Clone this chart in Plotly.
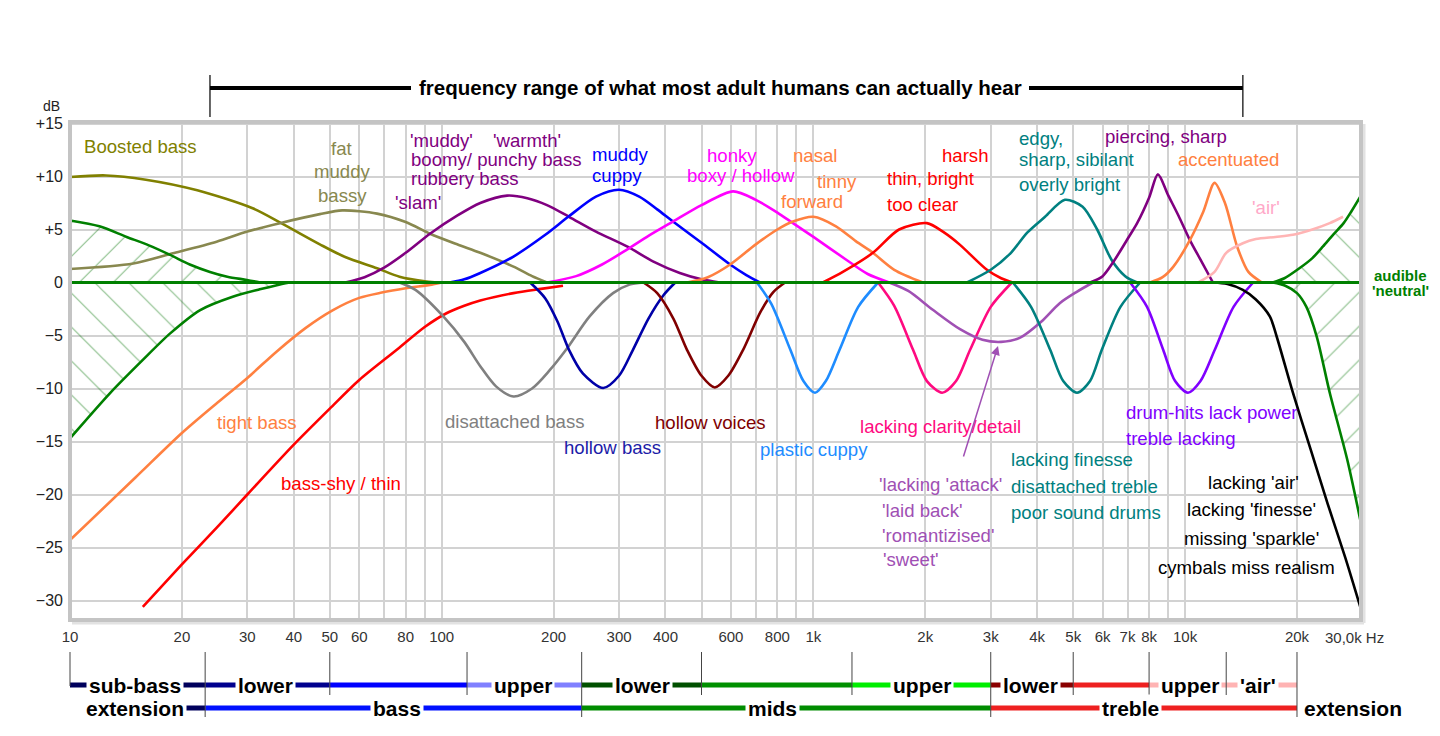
import math
import plotly.graph_objects as go

# ------------------------------------------------------------------ data
# (frequency in Hz, level in dB)
boosted_f = [10, 12.5, 16, 22, 31, 37, 47, 55, 67, 77, 91, 98]
boosted_db = [9.95, 10.1, 9.7, 8.7, 7.0, 5.6, 3.6, 2.4, 1.35, 0.55, 0.1, 0.0]

fat_f = [10, 14.8, 18.9, 24.8, 30, 36.7, 47, 54, 67, 80, 93, 110, 127, 156, 175, 192]
fat_db = [1.27, 1.8, 2.75, 3.85, 4.8, 5.6, 6.45, 6.8, 6.5, 5.7, 4.6, 3.6, 2.8, 1.5, 0.6, 0.0]

slam_f = [55, 62, 70, 80, 93, 110, 127, 150, 170, 192, 220, 260, 315, 370, 437, 500, 560]
slam_db = [0, 0.5, 1.4, 2.8, 4.6, 6.3, 7.5, 8.2, 7.95, 7.3, 6.2, 4.8, 3.4, 2.0, 0.9, 0.3, 0]

cuppy_f = [105, 115, 127, 156, 190, 219, 260, 300, 340, 380, 419, 500, 597, 660, 718]
cuppy_db = [0, 0.3, 0.9, 2.45, 4.5, 6.2, 8.1, 8.75, 8.1, 6.9, 5.75, 3.75, 1.7, 0.7, 0]

honky_f = [192, 230, 270, 315, 360, 419, 500, 608, 700, 800, 881, 1000, 1231, 1400, 1600]
honky_db = [0, 0.6, 1.7, 3.1, 4.4, 5.75, 7.3, 8.6, 7.8, 6.6, 5.6, 4.3, 2.1, 0.8, 0]

nasal_f = [457, 520, 597, 700, 800, 881, 1000, 1150, 1300, 1446, 1650, 1970]
nasal_db = [0, 0.5, 1.7, 3.6, 5.0, 5.75, 6.2, 5.3, 3.9, 2.8, 1.2, 0]

harsh_f = [1060, 1200, 1446, 1700, 2020, 2250, 2480, 2930, 3200, 3440]
harsh_db = [0, 1.0, 2.8, 5.0, 5.6, 4.7, 3.55, 1.2, 0.4, 0]

edgy_f = [2590, 3000, 3400, 3760, 4200, 4750, 5300, 5800, 6350, 6900, 7430]
edgy_db = [0, 1.2, 2.8, 4.7, 6.2, 7.8, 7.15, 5.0, 2.1, 0.6, 0]

pierce_f = [5550, 6000, 6400, 7000, 7430, 8000, 8450, 9000, 9600, 10300, 11000, 11880]
pierce_db = [0, 0.6, 1.9, 4.1, 5.6, 8.0, 10.2, 8.25, 6.3, 4.0, 2.15, 0]

accent_f = [8050, 8700, 9300, 10300, 11200, 12000, 12800, 13800, 14800, 16100]
accent_db = [0, 0.5, 1.5, 4.0, 6.7, 9.4, 7.5, 3.4, 1.0, 0]

air_f = [10840, 12000, 12900, 14300, 15500, 17500, 19500, 22000, 24500, 26600]
air_db = [0, 1.0, 2.8, 3.7, 4.1, 4.3, 4.5, 5.0, 5.6, 6.2]

lackair_f = [11900, 13000, 14300, 15500, 16900, 17600, 19500, 21700, 24200, 27000, 29600]
lackair_db = [0, -0.15, -0.7, -1.6, -3.2, -5.0, -10.4, -15.6, -20.9, -26.0, -30.6]

tight_f = [10, 15, 20, 25, 30, 36, 43, 51, 60, 69, 80, 94, 100]
tight_db = [-24.3, -18.4, -14.2, -11.3, -9.0, -6.5, -4.3, -2.6, -1.45, -0.95, -0.55, -0.2, 0]

shy_f = [15.7, 20, 25, 30, 40, 50, 60, 76, 90, 103, 115, 127, 156, 185, 212]
shy_db = [-30.6, -26.6, -23.0, -20.0, -15.3, -11.9, -9.2, -6.3, -4.2, -2.9, -2.2, -1.7, -1.0, -0.6, -0.3]

disatt_f = [77, 85, 101, 115, 127, 140, 156, 175, 195, 216, 250, 289, 320, 349]
disatt_db = [0, -0.7, -3.2, -5.6, -7.9, -9.8, -10.75, -10.0, -8.3, -6.35, -3.2, -1.0, -0.2, 0]

hbass_f = [173, 190, 205, 220, 240, 272, 300, 327, 360, 395, 425]
hbass_db = [0, -1.5, -3.7, -6.35, -8.6, -9.95, -8.8, -6.35, -3.4, -1.2, 0]

hvoice_f = [349, 380, 420, 457, 500, 543, 590, 647, 720, 780, 839]
hvoice_db = [0, -1.0, -3.4, -6.35, -8.8, -9.9, -8.8, -6.35, -2.8, -0.9, 0]

plastic_f = [705, 770, 867, 940, 1010, 1080, 1176, 1320, 1493]
plastic_db = [0, -2.0, -6.35, -9.3, -10.4, -9.3, -6.35, -2.3, 0]

clarity_f = [1493, 1650, 1854, 2020, 2220, 2420, 2640, 3000, 3420]
clarity_db = [0, -2.2, -6.35, -9.3, -10.4, -9.3, -6.35, -2.3, 0]

attack_f = [1600, 1800, 2100, 2480, 2850, 3200, 3600, 4100, 4600, 5100, 5650]
attack_db = [0, -0.8, -2.6, -4.4, -5.4, -5.6, -5.2, -3.7, -1.95, -0.9, 0]

finesse_f = [3440, 3850, 4335, 4700, 5120, 5550, 5970, 6700, 7570]
finesse_db = [0, -2.3, -6.35, -9.3, -10.4, -9.3, -6.35, -2.3, 0]

drum_f = [7115, 7900, 8730, 9400, 10180, 11000, 12020, 13500, 15240]
drum_db = [0, -2.3, -6.35, -9.3, -10.4, -9.3, -6.35, -2.3, 0]

# audible limits (green)
low_up_f = [10, 12, 14.2, 16.3, 18.6, 21, 23.8, 26.5, 29.9, 32.5]
low_up_db = [5.85, 5.3, 4.3, 3.5, 2.6, 1.7, 1.0, 0.55, 0.24, 0]
low_dn_f = [10, 12.8, 15.7, 18.6, 22.4, 27.4, 32.4, 36, 39]
low_dn_db = [-14.7, -10.45, -7.3, -4.8, -2.6, -1.34, -0.64, -0.25, 0]
high_up_f = [17200, 18500, 20300, 22000, 23500, 25000, 26700, 28000, 29600]
high_up_db = [0, 0.4, 1.34, 2.3, 3.4, 4.5, 5.6, 6.7, 8.1]
high_dn_f = [17200, 18600, 20000, 21200, 22600, 24500, 27300, 29600]
high_dn_db = [0, -0.3, -1.0, -2.3, -5.1, -10.4, -16.7, -22.4]
neutral_f = [10, 29700]
neutral_db = [0, 0]

# axis ticks
grid_hz = [m * d for d in (10, 100, 1000) for m in range(1, 10)] + [10000, 20000]
tick_text = {10: "10", 20: "20", 30: "30", 40: "40", 50: "50", 60: "60", 80: "80",
             100: "100", 200: "200", 300: "300", 400: "400", 600: "600", 800: "800",
             1000: "1k", 2000: "2k", 3000: "3k", 4000: "4k", 5000: "5k", 6000: "6k",
             7000: "7k", 8000: "8k", 10000: "10k", 20000: "20k"}
db_ticks = [-30, -25, -20, -15, -10, -5, 0, 5, 10, 15]
db_text = ["\u221230", "\u221225", "\u221220", "\u221215", "\u221210", "\u22125", "0", "+5", "+10", "+15"]

# frequency bands under the axis
band_edges_hz = [10, 23.1, 50, 117, 238, 500, 1270, 3000, 5000, 8000, 12900, 20000]
band_long_edges_hz = [23.1, 238, 3000, 20000]
row1_colors = ["#00005c", "#00008e", "#0000ff", "#8080ff", "#005000", "#009000",
               "#00ee00", "#8a0000", "#ee2020", "#ffb3b3", "#ffb3b3"]
row1_labels = ["sub-bass", "lower", "upper", "lower", "upper", "lower", "upper", "'air'"]
row1_label_hz = [15.0, 33.6, 165, 347, 1955, 3828, 10280, 15700]
row2_edges_hz = [19.5, 23.1, 238, 3000, 20000]
row2_colors = ["#00005c", "#0010ff", "#008c00", "#ee2020"]
row2_labels = ["extension", "bass", "mids", "treble"]
row2_label_hz = [15.0, 75.8, 778, 7110]
audible_range_hz = [23.8, 14300]

# ------------------------------------------------------------------ geometry
W, H = 1440, 736
PL, PR, PT, PB = 70, 1361, 122, 620
DEC = 371.7          # px per decade
DBPX = 10.6          # px per dB
Y0PX = 282.5         # px of 0 dB


def hz2px(f):
    return PL + (math.log10(f) - 1) * DEC


def fx(xpx):
    return xpx / W


def fy(ypx):
    return 1 - ypx / H


xr = [1, 1 + (PR - PL) / DEC]
yr = [(Y0PX - PB) / DBPX, (Y0PX - PT) / DBPX]

ARIAL = "Liberation Sans, Arial"
GREEN = "#008000"
LABEL_SIZE = 18.6

fig = go.Figure()


def hatch(fs, dbs, close_f, shape):
    fig.add_trace(go.Scatter(
        x=fs + [close_f], y=dbs + [0], mode="lines", line=dict(width=0),
        fill="toself", fillcolor="rgba(0,0,0,0)",
        fillpattern=dict(shape=shape, size=24, solidity=0.05, fgcolor="#1a801a",
                         bgcolor="rgba(0,0,0,0)"),
        hoverinfo="skip", showlegend=False))


hatch(low_up_f, low_up_db, low_up_f[0], "/")
hatch(low_dn_f, low_dn_db, low_dn_f[0], "\\")
hatch(high_up_f, high_up_db, high_up_f[-1], "\\")
hatch(high_dn_f, high_dn_db, high_dn_f[-1], "/")

curves = [
    (boosted_f, boosted_db, "#808000"),
    (fat_f, fat_db, "#88884f"),
    (slam_f, slam_db, "#800080"),
    (cuppy_f, cuppy_db, "#0000ff"),
    (honky_f, honky_db, "#ff00ff"),
    (nasal_f, nasal_db, "#ff8040"),
    (harsh_f, harsh_db, "#ff0000"),
    (edgy_f, edgy_db, "#008080"),
    (pierce_f, pierce_db, "#800080"),
    (accent_f, accent_db, "#ff8040"),
    (air_f, air_db, "#ffb4b4"),
    (tight_f, tight_db, "#ff8040"),
    (shy_f, shy_db, "#ff0000"),
    (disatt_f, disatt_db, "#808080"),
    (hbass_f, hbass_db, "#0000a8"),
    (hvoice_f, hvoice_db, "#800000"),
    (plastic_f, plastic_db, "#1e8cff"),
    (clarity_f, clarity_db, "#ff0a80"),
    (attack_f, attack_db, "#a050b4"),
    (finesse_f, finesse_db, "#008080"),
    (drum_f, drum_db, "#8000ff"),
    (lackair_f, lackair_db, "#000000"),
    (low_up_f, low_up_db, GREEN),
    (low_dn_f, low_dn_db, GREEN),
    (high_up_f, high_up_db, GREEN),
    (high_dn_f, high_dn_db, GREEN),
]
for fs, dbs, col in curves:
    fig.add_trace(go.Scatter(x=fs, y=dbs, mode="lines",
                             line=dict(color=col, width=2.6, shape="spline", smoothing=0.8),
                             hoverinfo="skip", showlegend=False))
fig.add_trace(go.Scatter(x=neutral_f, y=neutral_db, mode="lines",
                         line=dict(color=GREEN, width=3.2), hoverinfo="skip", showlegend=False))

# ------------------------------------------------------------------ axes
fig.update_layout(
    width=W, height=H, margin=dict(l=0, r=0, t=0, b=0, autoexpand=False),
    paper_bgcolor="white", plot_bgcolor="white", showlegend=False,
    xaxis=dict(type="log", range=xr, domain=[fx(PL), fx(PR)], automargin=False,
               tickvals=grid_hz, ticktext=[tick_text.get(v, "") for v in grid_hz],
               showgrid=True, gridcolor="#d2d2d2", gridwidth=1.5, zeroline=False,
               showline=False, ticks="", ticklabelstandoff=6,
               tickfont=dict(family=ARIAL, size=15, color="#333333"), fixedrange=True),
    yaxis=dict(range=yr, domain=[fy(PB), fy(PT)], automargin=False,
               tickvals=db_ticks, ticktext=db_text,
               showgrid=True, gridcolor="#d2d2d2", gridwidth=1.5, zeroline=False,
               showline=False, ticks="", ticklabelstandoff=6,
               tickfont=dict(family=ARIAL, size=16, color="#222222"), fixedrange=True),
)

shapes = []
# plot frame (with a faint shadow at bottom/right)
shapes.append(dict(type="line", xref="paper", yref="paper", x0=fx(PL + 2), x1=fx(PR + 3),
                   y0=fy(PB + 3), y1=fy(PB + 3), line=dict(color="#e2e2e2", width=3)))
shapes.append(dict(type="line", xref="paper", yref="paper", x0=fx(PR + 3), x1=fx(PR + 3),
                   y0=fy(PT + 2), y1=fy(PB + 3), line=dict(color="#e2e2e2", width=3)))
shapes.append(dict(type="rect", xref="paper", yref="paper", x0=fx(PL), x1=fx(PR),
                   y0=fy(PB), y1=fy(PT), line=dict(color="#c4c4c4", width=4), layer="above"))

# audible range bracket on top
ax0, ax1 = hz2px(audible_range_hz[0]), hz2px(audible_range_hz[1])
for xv in (ax0, ax1):
    shapes.append(dict(type="line", xref="paper", yref="paper", x0=fx(xv), x1=fx(xv),
                       y0=fy(75), y1=fy(117), line=dict(color="#333333", width=1.5)))
shapes.append(dict(type="line", xref="paper", yref="paper", x0=fx(ax0), x1=fx(411),
                   y0=fy(88), y1=fy(88), line=dict(color="black", width=4)))
shapes.append(dict(type="line", xref="paper", yref="paper", x0=fx(1029), x1=fx(ax1),
                   y0=fy(88), y1=fy(88), line=dict(color="black", width=4)))

# band rows
R1, R2 = 685, 708
for i, col in enumerate(row1_colors):
    shapes.append(dict(type="line", xref="paper", yref="paper",
                       x0=fx(hz2px(band_edges_hz[i])), x1=fx(hz2px(band_edges_hz[i + 1])),
                       y0=fy(R1), y1=fy(R1), line=dict(color=col, width=5)))
for i, col in enumerate(row2_colors):
    shapes.append(dict(type="line", xref="paper", yref="paper",
                       x0=fx(hz2px(row2_edges_hz[i])), x1=fx(hz2px(row2_edges_hz[i + 1])),
                       y0=fy(R2), y1=fy(R2), line=dict(color=col, width=5)))
for f in band_edges_hz:
    bottom = 686 if f == band_edges_hz[0] else (717 if f in band_long_edges_hz else 695)
    xv = hz2px(f)
    shapes.append(dict(type="line", xref="paper", yref="paper", x0=fx(xv), x1=fx(xv),
                       y0=fy(652), y1=fy(bottom), line=dict(color="#444444", width=1)))

# ------------------------------------------------------------------ texts
anns = []


def txt(text, x, y, color, anchor="left", size=LABEL_SIZE, family=ARIAL, bg=None, bold=False):
    if bold:
        text = "<b>" + text + "</b>"
    d = dict(text=text, xref="paper", yref="paper", x=fx(x), y=fy(y), xanchor=anchor,
             yanchor="middle", showarrow=False, font=dict(family=family, size=size, color=color))
    if bg:
        d.update(bgcolor=bg, borderpad=2)
    anns.append(d)


txt("frequency range of what most adult humans can actually hear", 720, 88, "black",
    "center", 20.5, bold=True)
txt("dB", 52, 106, "#222222", "center", 14)
txt("30,0k Hz", 1354, 637, "#333333", "center", 15)

OLIVE, FAT, PURPLE = "#808000", "#88884f", "#800080"
txt("Boosted bass", 82, 147, OLIVE)
txt("fat", 342, 148, FAT, "center")
txt("muddy", 342, 171, FAT, "center")
txt("bassy", 342, 196, FAT, "center")
txt("'muddy'", 408, 140, PURPLE)
txt("'warmth'", 491, 140, PURPLE)
txt("boomy/ punchy bass", 409, 160, PURPLE)
txt("rubbery bass", 409, 179, PURPLE)
txt("'slam'", 393, 203, PURPLE)
txt("muddy", 620, 154, "#0000ff", "center")
txt("cuppy", 617, 176, "#0000ff", "center")
txt("honky", 732, 156, "#ff00ff", "center")
txt("boxy / hollow", 741, 176, "#ff00ff", "center")
txt("nasal", 815, 155, "#ff8040", "center")
txt("tinny", 837, 181, "#ff8040", "center")
txt("forward", 812, 201, "#ff8040", "center")
txt("harsh", 966, 156, "#ff0000", "center")
txt("thin, bright", 885, 179, "#ff0000")
txt("too clear", 885, 204, "#ff0000")
txt("edgy,", 1017, 138, "#008080")
txt("sharp, sibilant", 1017, 160, "#008080")
txt("overly bright", 1017, 184, "#008080")
txt("piercing, sharp", 1103, 137, PURPLE)
txt("accentuated", 1176, 160, "#ff8040")
txt("'air'", 1250, 208, "#ffa8c8")
txt("audible", 1400, 275, GREEN, "center", 15, bold=True)
txt("'neutral'", 1400, 291, GREEN, "center", 15, bold=True)

txt("tight bass", 215, 422, "#ff8040")
txt("bass-shy / thin", 279, 483, "#ff0000")
txt("disattached bass", 443, 421, "#808080")
txt("hollow bass", 562, 447, "#1c1ca8")
txt("hollow voices", 653, 422, "#800000")
txt("plastic cuppy", 758, 449, "#1e8cff")
txt("lacking clarity/detail", 858, 426, "#ff0a80")
LP = "#a050b4"
txt("'lacking 'attack'", 877, 485, LP)
txt("'laid back'", 880, 510, LP)
txt("'romantizised'", 880, 535, LP)
txt("'sweet'", 881, 559, LP)
txt("lacking finesse", 1009, 459, "#008080")
txt("disattached treble", 1009, 486, "#008080")
txt("poor sound drums", 1009, 512, "#008080")
txt("drum-hits lack power", 1124, 412, "#8000ff")
txt("treble lacking", 1124, 439, "#8000ff")
txt("lacking 'air'", 1253, 482, "black", "center")
txt("lacking 'finesse'", 1251, 509, "black", "center")
txt("missing 'sparkle'", 1251, 538, "black", "center")
txt("cymbals miss realism", 1246, 567, "black", "center")

# arrow to the 'laid back' dip
anns.append(dict(text="", xref="paper", yref="paper", x=fx(998), y=fy(346),
                 ax=-35, ay=112, axref="pixel", ayref="pixel", showarrow=True,
                 arrowhead=2, arrowsize=1.2, arrowwidth=1.5, arrowcolor=LP))

# band labels
for lab, f in zip(row1_labels, row1_label_hz):
    txt(lab, hz2px(f), R1, "black", "center", 21, bg="white", bold=True)
for lab, f in zip(row2_labels, row2_label_hz):
    txt(lab, hz2px(f), R2, "black", "center", 21, bg="white", bold=True)
txt("extension", hz2px(row2_edges_hz[-1]) + 5, R2, "black", "left", 21, bold=True)

fig.update_layout(shapes=shapes, annotations=anns)
fig.write_html("out.html", config={"displayModeBar": False},
               post_script="document.body.style.margin='0px';document.body.style.padding='0px';")
